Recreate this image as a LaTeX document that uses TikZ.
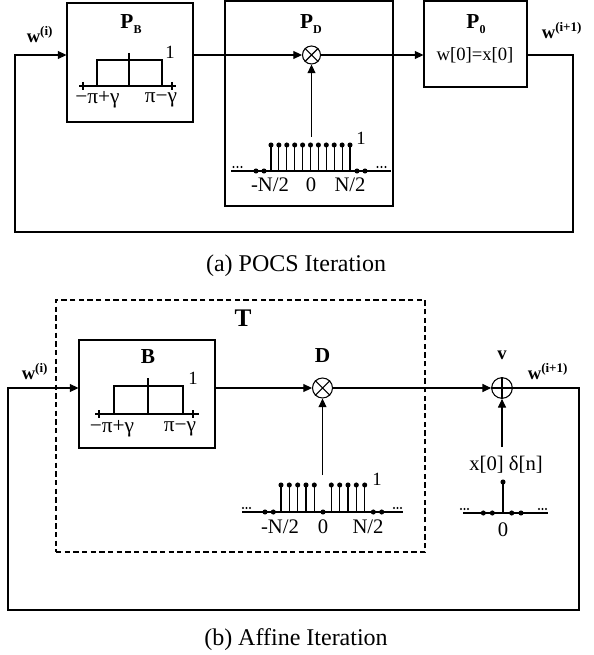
\documentclass[tikz,border=0pt]{standalone}
\usepackage{fontspec}
\setmainfont{Liberation Serif}
\usetikzlibrary{arrows.meta,fit}
\begin{document}
\begin{tikzpicture}[x=0.75pt,y=-0.75pt, line width=0.8pt,
  arr/.style={-{Triangle[length=6.5pt,width=6pt]}},
  blk/.style={draw, inner sep=0pt, fit={#1}},
  lab/.style={font=\fontsize{14}{16}\selectfont, inner sep=0pt},
  nlab/.style={font=\fontsize{15.5}{17}\selectfont, inner sep=0pt},
  glab/.style={font=\fontsize{16}{18}\selectfont, inner sep=0pt},
  blab/.style={font=\fontsize{14}{16}\selectfont\bfseries, inner sep=0pt},
  plab/.style={font=\fontsize{16}{18}\selectfont\bfseries, inner sep=0pt},
  captxt/.style={font=\fontsize{18}{20}\selectfont, inner sep=0pt},
  op/.style={draw, circle, inner sep=0pt, minimum size=#1},
]
\newcommand{\psub}[1]{\raisebox{-0.55ex}{\fontsize{9}{9}\selectfont #1}}
\useasboundingbox (0,0) rectangle (593,655);

% ================= (a) POCS =================
\node[blk={(67,3) (193,122)}] (PB) {};
\node[blk={(225,1) (393,206)}] (PD) {};
\node[blk={(424,1) (527,87)}] (P0) {};
\node[op=13.5pt] (m1) at (311.5,55) {};
\draw (m1.north west) -- (m1.south east) (m1.north east) -- (m1.south west);

\node[plab] (lPB) at (131,24) {P\psub{B}};
\node[plab] (lPD) at (311,24) {P\psub{D}};
\node[plab] (lP0) at (476,24) {P\psub{0}};
\node[lab] (eq0) at (475,55) {w[0]=x[0]};
\node[blab] (wi) at (40,35) {w\textsuperscript{(i)}};
\node[blab] (wi1) at (562,31) {w\textsuperscript{(i+1)}};

\coordinate (fR) at (573,232);
\coordinate (fL) at (15,232);
\draw[arr] (PB.east |- m1) -- (m1);
\draw[arr] (m1) -- (P0.west |- m1);
\draw[arr] (P0.east |- m1) -| (fR) -- (fL) |- (PB.west |- m1);

% band-limit rectangle in P_B
\draw (97,86) rectangle (162,60);
\draw (129,53) -- (129,86);
\draw (79,86) -- (176,86);
\draw (83,82) -- (83,90) (172,82) -- (172,90);
\node[lab] (oneB) at (170,52) {1};
\node[glab] (lpl) at (97.5,100) {−π+γ};
\node[glab] (lpr) at (161,100) {π−γ};

% stem plot in P_D
\draw (231,171) -- (391,171);
\foreach \x in {256,264,357,365} \fill (\x,171) circle (1.9pt);
\foreach \k in {0,...,10} {
  \draw ({271+7.9*\k},171) -- ({271+7.9*\k},145);
  \fill ({271+7.9*\k},145) circle (1.9pt);
}
\foreach \x in {233.5,237.5,241.5,377.5,381.5,385.5} \fill (\x,167) circle (0.9pt);
\node[lab] (oneD) at (361,138) {1};
\node[nlab] (nl) at (270,185) {-N/2};
\node[nlab] (nz) at (311,185) {0};
\node[nlab] (nr) at (350,185) {N/2};
\coordinate (sD) at (311.5,137);
\draw[arr] (sD) -- (m1);

\node[captxt] (capa) at (296,266) {(a) POCS Iteration};

% ================= (b) Affine =================
\node[blk={(56,300) (425,552)}, dash pattern=on 4pt off 2.5pt] (T) {};
\node[font=\fontsize{19}{21}\selectfont\bfseries, inner sep=0pt] (lT) at (243,318) {T};
\node[blk={(79,340) (215,448)}] (B) {};
\node[plab] (lB) at (148,357) {B};
\node[op=15pt] (m2) at (322.5,388) {};
\draw (m2.north west) -- (m2.south east) (m2.north east) -- (m2.south west);
\node[op=15.5pt] (ad) at (502,388) {};
\draw (ad.north) -- (ad.south) (ad.west) -- (ad.east);
\node[plab] (lD) at (322.5,356) {D};
\node[blab] (lv) at (502,355) {v};
\node[blab] (wib) at (35,372) {w\textsuperscript{(i)}};
\node[blab] (wi1b) at (548,372) {w\textsuperscript{(i+1)}};

\coordinate (gR) at (579,610);
\coordinate (gL) at (8,610);
\draw[arr] (B.east |- m2) -- (m2);
\draw[arr] (m2) -- (ad);
\draw[arr] (ad) -| (gR) -- (gL) |- (B.west |- m2);

% rectangle in B
\draw (114,414) rectangle (183,386);
\draw (148,378) -- (148,414);
\draw (95,414) -- (199,414);
\draw (99,410) -- (99,418) (193,410) -- (193,418);
\node[lab] (oneBb) at (193,378) {1};
\node[glab] (lplb) at (112,429) {−π+γ};
\node[glab] (lprb) at (180,429) {π−γ};

% stem plot D
\draw (242,512) -- (403,512);
\foreach \x in {265,273.3,323,373.3,381.7} \fill (\x,512) circle (1.9pt);
\foreach \x in {281,289.3,297.7,306,314.3,331.3,339.7,348,356.3,364.7} {
  \draw (\x,512) -- (\x,485);
  \fill (\x,485) circle (1.9pt);
}
\foreach \x in {243,246.5,250,394,397.5,401} \fill (\x,508) circle (0.9pt);
\node[lab] (oneDb) at (377,479) {1};
\node[nlab] (nlb) at (280,527) {-N/2};
\node[nlab] (nzb) at (323,527) {0};
\node[nlab] (nrb) at (368,527) {N/2};
\coordinate (sD2) at (322.5,475);
\draw[arr] (sD2) -- (m2);

% delta at v
\draw (463,513) -- (548,513);
\foreach \x in {483.3,492.3,511.7,521} \fill (\x,513) circle (1.9pt);
\draw (503,513) -- (503,482);
\fill (503,482) circle (1.9pt);
\foreach \x in {461,464.5,468,539,542.5,546} \fill (\x,509) circle (0.9pt);
\node[nlab] (vz) at (503,530) {0};
\node[nlab] (xd) at (506,465) {x[0] δ[n]};
\coordinate (sV) at (502,447);
\draw[arr] (sV) -- (ad);

\node[captxt] (capb) at (296,640) {(b) Affine Iteration};
\end{tikzpicture}
\end{document}
